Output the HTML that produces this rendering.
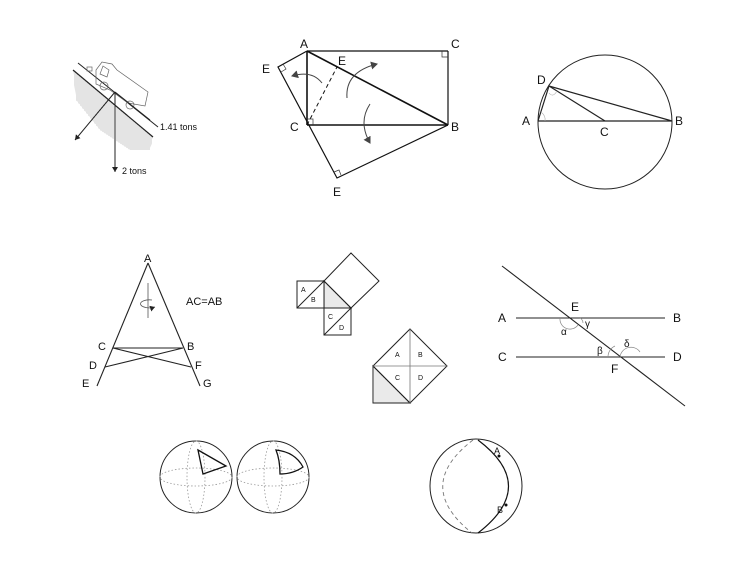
<!DOCTYPE html>
<html><head><meta charset="utf-8"><style>
html,body{margin:0;padding:0;background:#fff;}
svg{display:block}
text{font-family:"Liberation Sans",sans-serif;fill:#111}
</style></head><body>
<svg width="750" height="580" viewBox="0 0 750 580" xmlns="http://www.w3.org/2000/svg">
<defs>
<marker id="ah" markerWidth="8" markerHeight="8" refX="6" refY="4" orient="auto" markerUnits="userSpaceOnUse"><path d="M0,0 L7,4 L0,8 Z" fill="#444"/></marker>
<marker id="ahs" markerWidth="6" markerHeight="6" refX="5" refY="3" orient="auto" markerUnits="userSpaceOnUse"><path d="M0,0 L5,3 L0,6 Z" fill="#222"/></marker>
<pattern id="hatch" width="2" height="2" patternUnits="userSpaceOnUse"><rect width="2" height="2" fill="#fff"/><line x1="1" y1="0" x2="1" y2="2" stroke="#bbb" stroke-width="0.8"/></pattern>
<pattern id="hatch2" width="2" height="2" patternUnits="userSpaceOnUse"><rect width="2" height="2" fill="#fff"/><line x1="1" y1="0" x2="1" y2="2" stroke="#ccc" stroke-width="0.8"/></pattern>
</defs>

<!-- Truck on slope -->
<polygon points="73,70 153,137 150,150 130,150 100,130 76,100" fill="url(#hatch)"/>
<line x1="73" y1="70" x2="153" y2="137" stroke="#222" stroke-width="1.2"/>
<line x1="78" y1="63" x2="158" y2="127" stroke="#222" stroke-width="1"/>
<g fill="none" stroke="#666" stroke-width="0.7">
<polygon points="96,70 102,62 112,64 117,70 148,92 145,106 128,103 110,90 96,84"/>
<polygon points="103,66 109,70 107,77 100,74"/>
<circle cx="104" cy="86" r="4"/><circle cx="130" cy="105" r="4"/>
<rect x="87" y="67" width="5" height="4"/>
</g>
<line x1="115" y1="92" x2="115" y2="172" stroke="#222" stroke-width="1" marker-end="url(#ahs)"/>
<line x1="115" y1="92" x2="75" y2="140" stroke="#222" stroke-width="1" marker-end="url(#ahs)"/>
<line x1="115" y1="92" x2="150" y2="120" stroke="#222" stroke-width="1"/>
<text x="160" y="130" font-size="9">1.41 tons</text>
<text x="122" y="174" font-size="9">2 tons</text>

<!-- Rectangle folding figure -->
<g stroke="#111" stroke-width="1.6" fill="none">
<line x1="307" y1="51" x2="448" y2="51" stroke-width="1.2"/>
<line x1="448" y1="51" x2="448" y2="125" stroke-width="1.2"/>
<line x1="307" y1="51" x2="307" y2="125"/>
<line x1="307" y1="125" x2="448" y2="125"/>
<line x1="307" y1="51" x2="448" y2="125"/>
<polyline points="307,51 278,67 337,178 448,125" stroke-width="1.2"/>
<line x1="307" y1="125" x2="337" y2="67" stroke-dasharray="4,3" stroke-width="1"/>
</g>
<g stroke="#333" stroke-width="0.7" fill="none">
<polyline points="442,51 442,57 448,57"/>
<polyline points="307,119 313,119 313,125"/>
<polyline points="281,72 286,69 283,64"/>
<polyline points="334,172 339,170 341,175"/>
</g>
<g stroke="#444" stroke-width="1" fill="none">
<path d="M322,83 Q312,70 292,76" marker-end="url(#ah)"/>
<path d="M347,98 Q345,72 377,64" marker-end="url(#ah)"/>
<path d="M370,104 Q358,122 370,143" marker-end="url(#ah)"/>
</g>
<g font-size="12">
<text x="300" y="48">A</text><text x="451" y="48">C</text>
<text x="262" y="73">E</text><text x="338" y="65">E</text>
<text x="290" y="131">C</text><text x="451" y="131">B</text>
<text x="333" y="196">E</text>
</g>

<!-- Circle -->
<circle cx="605" cy="122" r="67" fill="none" stroke="#222" stroke-width="1"/>
<g stroke="#222" stroke-width="1.2" fill="none">
<line x1="538" y1="121" x2="672" y2="121"/>
<polyline points="538,121 549,86 672,121"/>
<line x1="549" y1="86" x2="605" y2="121"/>
</g>
<g stroke="#aaa" stroke-width="0.6" fill="none">
<path d="M541,112 Q546,116 545,121"/><path d="M549,93 Q553,98 557,91"/>
</g>
<g font-size="12"><text x="537" y="84">D</text><text x="522" y="125">A</text><text x="600" y="136">C</text><text x="675" y="125">B</text></g>

<!-- Triangle A -->
<g stroke="#222" stroke-width="1.1" fill="none">
<line x1="148" y1="263" x2="97" y2="386"/>
<line x1="148" y1="263" x2="200" y2="386"/>
<line x1="113" y1="348" x2="183" y2="348"/>
<line x1="113" y1="348" x2="191" y2="367"/>
<line x1="183" y1="348" x2="105" y2="367"/>
</g>
<line x1="148" y1="283" x2="148" y2="318" stroke="#777" stroke-width="1"/>
<path d="M152,300 A9,4 0 1 0 155,307" stroke="#555" fill="none" stroke-width="0.8" marker-end="url(#ahs)"/>
<g font-size="11"><text x="144" y="262">A</text><text x="186" y="305">AC=AB</text>
<text x="98" y="350">C</text><text x="187" y="350">B</text>
<text x="89" y="369">D</text><text x="195" y="369">F</text>
<text x="82" y="387">E</text><text x="203" y="387">G</text></g>

<!-- Pythagoras squares -->
<polygon points="324,281 351,308 324,308" fill="url(#hatch2)"/>
<g stroke="#222" stroke-width="1" fill="none">
<rect x="297" y="281" width="27" height="27"/>
<line x1="297" y1="308" x2="324" y2="281"/>
<polygon points="324,281 351,308 324,308"/>
<polygon points="324,281 351,253 379,281 351,308"/>
<rect x="324" y="308" width="27" height="27"/>
<line x1="324" y1="335" x2="351" y2="308"/>
</g>
<g font-size="7"><text x="301" y="292">A</text><text x="311" y="302">B</text><text x="328" y="319">C</text><text x="339" y="330">D</text></g>

<polygon points="373,366 410,403 373,403" fill="url(#hatch2)"/>
<g stroke="#222" stroke-width="1" fill="none">
<polygon points="410,329 447,366 410,403 373,366"/>
<polygon points="373,366 410,403 373,403"/>
</g>
<g stroke="#777" stroke-width="0.8"><line x1="410" y1="329" x2="410" y2="403"/><line x1="373" y1="366" x2="447" y2="366"/></g>
<g font-size="7"><text x="395" y="357">A</text><text x="418" y="357">B</text><text x="395" y="380">C</text><text x="418" y="380">D</text></g>

<!-- Parallel lines -->
<g stroke="#222" stroke-width="1.1">
<line x1="516" y1="318" x2="665" y2="318"/>
<line x1="516" y1="357" x2="665" y2="357"/>
<line x1="502" y1="266" x2="685" y2="406"/>
</g>
<g stroke="#888" stroke-width="0.7" fill="none">
<path d="M560,318 A10,10 0 0 0 578,325"/>
<path d="M580,318 A6,6 0 0 1 583,323"/>
<path d="M608,357 A12,12 0 0 1 615,346"/>
<path d="M620,357 A11,11 0 0 1 640,352"/>
</g>
<g font-size="12"><text x="498" y="322">A</text><text x="673" y="322">B</text><text x="498" y="361">C</text><text x="673" y="361">D</text>
<text x="571" y="311">E</text><text x="611" y="373">F</text></g>
<g font-size="10"><text x="561" y="335">α</text><text x="585" y="327">γ</text><text x="597" y="354">β</text><text x="624" y="347">δ</text></g>

<!-- Spheres -->
<g fill="none">
<circle cx="196" cy="477" r="36" stroke="#222" stroke-width="1"/>
<ellipse cx="196" cy="477" rx="36" ry="9" stroke="#999" stroke-dasharray="1.5,2" stroke-width="0.8"/>
<ellipse cx="196" cy="477" rx="9" ry="36" stroke="#999" stroke-dasharray="1.5,2" stroke-width="0.8"/>
<polygon points="198,450 226,466 203,474" stroke="#111" stroke-width="1.3"/>
<circle cx="273" cy="477" r="36" stroke="#222" stroke-width="1"/>
<ellipse cx="273" cy="477" rx="36" ry="9" stroke="#999" stroke-dasharray="1.5,2" stroke-width="0.8"/>
<ellipse cx="273" cy="477" rx="9" ry="36" stroke="#999" stroke-dasharray="1.5,2" stroke-width="0.8"/>
<path d="M276,450 Q295,452 303,467 Q293,474 280,474 Q280,460 276,450 Z" stroke="#111" stroke-width="1.3"/>
<ellipse cx="476" cy="486" rx="46" ry="47" stroke="#222" stroke-width="1"/>
<path d="M473,440 Q413,486 472,533" stroke="#777" stroke-dasharray="4,3" stroke-width="0.9"/>
<path d="M478,440 Q539,486 478,533" stroke="#111" stroke-width="1.2"/>
</g>
<circle cx="499" cy="456" r="1.5" fill="#111"/><circle cx="506" cy="505" r="1.5" fill="#111"/>
<g font-size="9"><text x="494" y="454">A</text><text x="497" y="513">B</text></g>
</svg>
</body></html>
